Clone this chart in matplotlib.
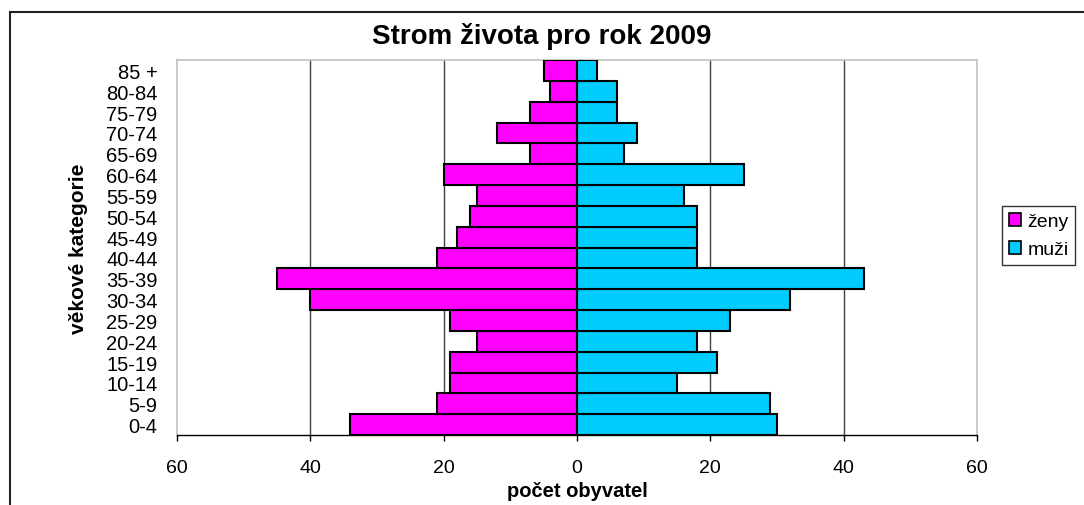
"""Strom života pro rok 2009 — population pyramid (ženy / muži)."""

import matplotlib
matplotlib.use("Agg")
import matplotlib.pyplot as plt
from matplotlib.patches import Rectangle, Patch

plt.rcParams["font.family"] = ["Liberation Sans", "DejaVu Sans"]

categories = ["0-4", "5-9", "10-14", "15-19", "20-24", "25-29", "30-34", "35-39",
              "40-44", "45-49", "50-54", "55-59", "60-64", "65-69", "70-74",
              "75-79", "80-84", "85 +"]
zeny = [34, 21, 19, 19, 15, 19, 40, 45, 21, 18, 16, 15, 20, 7, 12, 7, 4, 5]
muzi = [30, 29, 15, 21, 18, 23, 32, 43, 18, 18, 18, 16, 25, 7, 9, 6, 6, 3]
xticks = [-60, -40, -20, 0, 20, 40, 60]

W, H = 1084, 506


def main():
    fig = plt.figure(figsize=(W / 100, H / 100), dpi=100)
    ax = fig.add_axes([177 / W, 1 - 436 / H, 800 / W, 375 / H])

    y = range(len(categories))
    ax.barh(y, [-v for v in zeny], height=1.0, color="#FF00FF",
            edgecolor="black", linewidth=1.5, label="ženy", zorder=3)
    ax.barh(y, muzi, height=1.0, color="#00CCFF",
            edgecolor="black", linewidth=1.5, label="muži", zorder=3)

    ax.set_xlim(-60, 60)
    ax.set_ylim(-0.5, len(categories) - 0.5)
    ax.set_xticks(xticks)
    ax.set_xticklabels([str(abs(t)) for t in xticks], fontsize=14)
    ax.set_yticks(list(y))
    ax.set_yticklabels(categories, fontsize=14.5)
    ax.tick_params(axis="y", length=0, pad=14)
    ax.tick_params(axis="x", direction="out", length=4, width=1, pad=13)

    for t in [-40, -20, 20, 40]:
        ax.axvline(t, color="#404040", linewidth=1, zorder=1)

    for s in ["top", "left", "right"]:
        ax.spines[s].set_color("#c0c0c0")
        ax.spines[s].set_linewidth(1.2)
    ax.spines["bottom"].set_color("black")
    ax.spines["bottom"].set_linewidth(1)

    ax.set_xlabel("počet obyvatel", fontsize=14.5, fontweight="bold", labelpad=4)
    ax.set_ylabel("věkové kategorie", fontsize=15, fontweight="bold", labelpad=13)

    fig.text(0.5, 1 - 37 / H, "Strom života pro rok 2009", fontsize=20,
             fontweight="bold", ha="center", va="center")

    handles = [Patch(facecolor="#FF00FF", edgecolor="black", linewidth=1.2, label="ženy"),
               Patch(facecolor="#00CCFF", edgecolor="black", linewidth=1.2, label="muži")]
    leg = fig.legend(handles=handles, loc="upper left",
                     bbox_to_anchor=(1002 / W, 1 - 207 / H), fontsize=14,
                     frameon=True, fancybox=False, handlelength=0.65,
                     handleheight=0.65, handletextpad=0.3, borderpad=0.35,
                     labelspacing=0.55, borderaxespad=0)
    leg.get_frame().set_edgecolor("black")
    leg.get_frame().set_linewidth(1)

    fig.patches.append(Rectangle((10 / W, -0.2), 1.0, 1.2 - 13 / H, transform=fig.transFigure,
                                 fill=False, edgecolor="#222222", linewidth=1.5))

    fig.savefig("out.png", dpi=100)
    plt.close(fig)


if __name__ == "__main__":
    main()
